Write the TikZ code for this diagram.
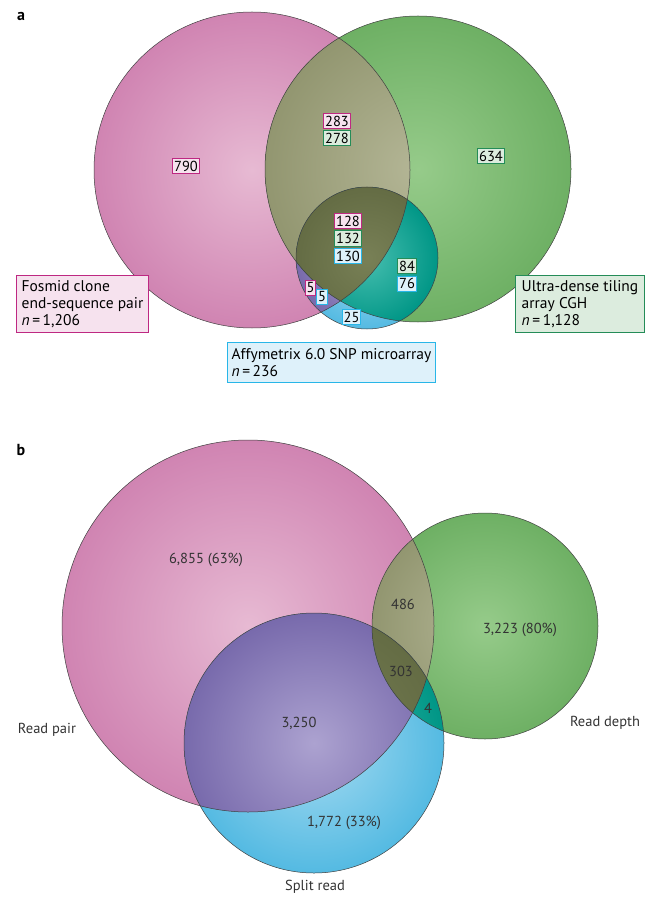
\documentclass[tikz,border=0pt]{standalone}
\usepackage{fontspec}
\setmainfont{PT Sans}

\definecolor{pinkL}{RGB}{231,186,211}
\definecolor{pinkD}{RGB}{208,132,178}
\definecolor{greenL}{RGB}{150,203,138}
\definecolor{greenD}{RGB}{110,176,100}
\definecolor{blueL}{RGB}{168,220,242}
\definecolor{blueD}{RGB}{84,186,226}
\definecolor{oliveL}{RGB}{180,182,150}
\definecolor{oliveD}{RGB}{146,150,112}
\definecolor{purpL}{RGB}{172,162,208}
\definecolor{purpD}{RGB}{120,106,172}
\definecolor{tealL}{RGB}{70,190,175}
\definecolor{tealD}{RGB}{0,150,134}
\definecolor{darkolL}{RGB}{120,128,86}
\definecolor{darkolD}{RGB}{100,108,68}
\definecolor{pinkline}{RGB}{190,40,130}
\definecolor{greenline}{RGB}{36,140,88}
\definecolor{blueline}{RGB}{40,182,232}
\definecolor{pinkfill}{RGB}{246,226,238}
\definecolor{greenfill}{RGB}{220,236,222}
\definecolor{bluefill}{RGB}{222,241,250}

% circles of panel a
\newcommand{\fosmidpath}{(252,170) circle[radius=158pt]}
\newcommand{\cghpath}{(418,169) circle[radius=153pt]}
\newcommand{\snppath}{(367,258) circle[radius=71pt]}
% circles of panel b
\newcommand{\pairpath}{(248,626) circle[radius=186pt]}
\newcommand{\depthpath}{(485,626) circle[radius=113pt]}
\newcommand{\splitpath}{(314,743) circle[radius=130pt]}

\begin{document}
\begin{tikzpicture}[x=1pt,y=-1pt,
font=\fontsize{14.5}{17.3}\selectfont,
edge/.style={draw=black!75, line width=0.5pt},
numbox/.style={line width=1pt, inner xsep=1.5pt, inner ysep=1pt, minimum height=15pt},
pnum/.style={numbox, draw=pinkline, fill=pinkfill},
gnum/.style={numbox, draw=greenline, fill=greenfill},
bnum/.style={numbox, draw=blueline, fill=bluefill},
setbox/.style={line width=1pt, anchor=north west, align=left, inner sep=4pt,
  font=\fontsize{15.5}{17.3}\selectfont},
vlabel/.style={text=black!80}
]
\useasboundingbox (0,0) rectangle (648,909);

% ---- panel a
\node [font=\fontsize{16}{16}\selectfont\bfseries] (la) at (21,16) {a};

\shade [inner color=pinkL, outer color=pinkD] \fosmidpath;
\shade [inner color=greenL, outer color=greenD] \cghpath;
\shade [inner color=blueL, outer color=blueD] \snppath;
\begin{scope}
  \clip \fosmidpath;
  \shade [inner color=oliveL, outer color=oliveD] \cghpath;
  \shade [inner color=purpL, outer color=purpD] \snppath;
\end{scope}
\begin{scope}
  \clip \cghpath;
  \shade [inner color=tealL, outer color=tealD] \snppath;
\end{scope}
\begin{scope}
  \clip \fosmidpath;
  \clip \cghpath;
  \shade [inner color=darkolL, outer color=darkolD] \snppath;
\end{scope}
\draw [edge] \fosmidpath;
\draw [edge] \cghpath;
\draw [edge] \snppath;

\node [pnum] (n790) at (186,166) {790};
\node [pnum] (n283) at (337,121) {283};
\node [gnum] (n278) at (337,138.5) {278};
\node [gnum] (n634) at (491,156) {634};
\node [pnum] (n128) at (348,221) {128};
\node [gnum] (n132) at (348,238.5) {132};
\node [bnum] (n130) at (348,256) {130};
\node [gnum] (n84) at (407,266) {84};
\node [bnum] (n76) at (407,283.5) {76};
\node [pnum] (n5p) at (310.5,288) {5};
\node [bnum] (n5b) at (322,297) {5};
\node [bnum] (n25) at (351.5,317) {25};

\node [setbox, draw=pinkline, fill=pinkfill, minimum width=132pt, minimum height=57pt] (fosmid) at (16,275)
  {Fosmid clone\\end-sequence pair\\\textit{n}\,=\,1,206};
\node [setbox, draw=greenline, fill=greenfill, minimum width=129pt, minimum height=57pt] (cgh) at (515,275)
  {Ultra-dense tiling\\array CGH\\\textit{n}\,=\,1,128};
\node [setbox, draw=blueline, fill=bluefill, minimum width=208pt, minimum height=40pt] (snp) at (227,342)
  {Affymetrix 6.0 SNP microarray\\\textit{n}\,=\,236};

% ---- panel b
\node [font=\fontsize{16}{16}\selectfont\bfseries] (lb) at (21,450) {b};

\shade [inner color=pinkL, outer color=pinkD] \pairpath;
\shade [inner color=greenL, outer color=greenD] \depthpath;
\shade [inner color=blueL, outer color=blueD] \splitpath;
\begin{scope}
  \clip \pairpath;
  \shade [inner color=oliveL, outer color=oliveD] \depthpath;
  \shade [inner color=purpL, outer color=purpD] \splitpath;
\end{scope}
\begin{scope}
  \clip \depthpath;
  \shade [inner color=tealL, outer color=tealD] \splitpath;
\end{scope}
\begin{scope}
  \clip \pairpath;
  \clip \depthpath;
  \shade [inner color=darkolL, outer color=darkolD] \splitpath;
\end{scope}
\draw [edge] \pairpath;
\draw [edge] \depthpath;
\draw [edge] \splitpath;

\node [vlabel] (v6855) at (206,560) {6,855 (63\%)};
\node [vlabel] (v486) at (403,604) {486};
\node [vlabel] (v3223) at (520,630) {3,223 (80\%)};
\node [vlabel] (v303) at (401,671) {303};
\node [vlabel] (v4) at (428,708) {4};
\node [vlabel] (v3250) at (299,723) {3,250};
\node [vlabel] (v1772) at (344,823) {1,772 (33\%)};

\node [vlabel] (readpair) at (47,730) {Read pair};
\node [vlabel] (readdepth) at (605,723) {Read depth};
\node [vlabel] (splitread) at (315,887) {Split read};
\end{tikzpicture}
\end{document}
